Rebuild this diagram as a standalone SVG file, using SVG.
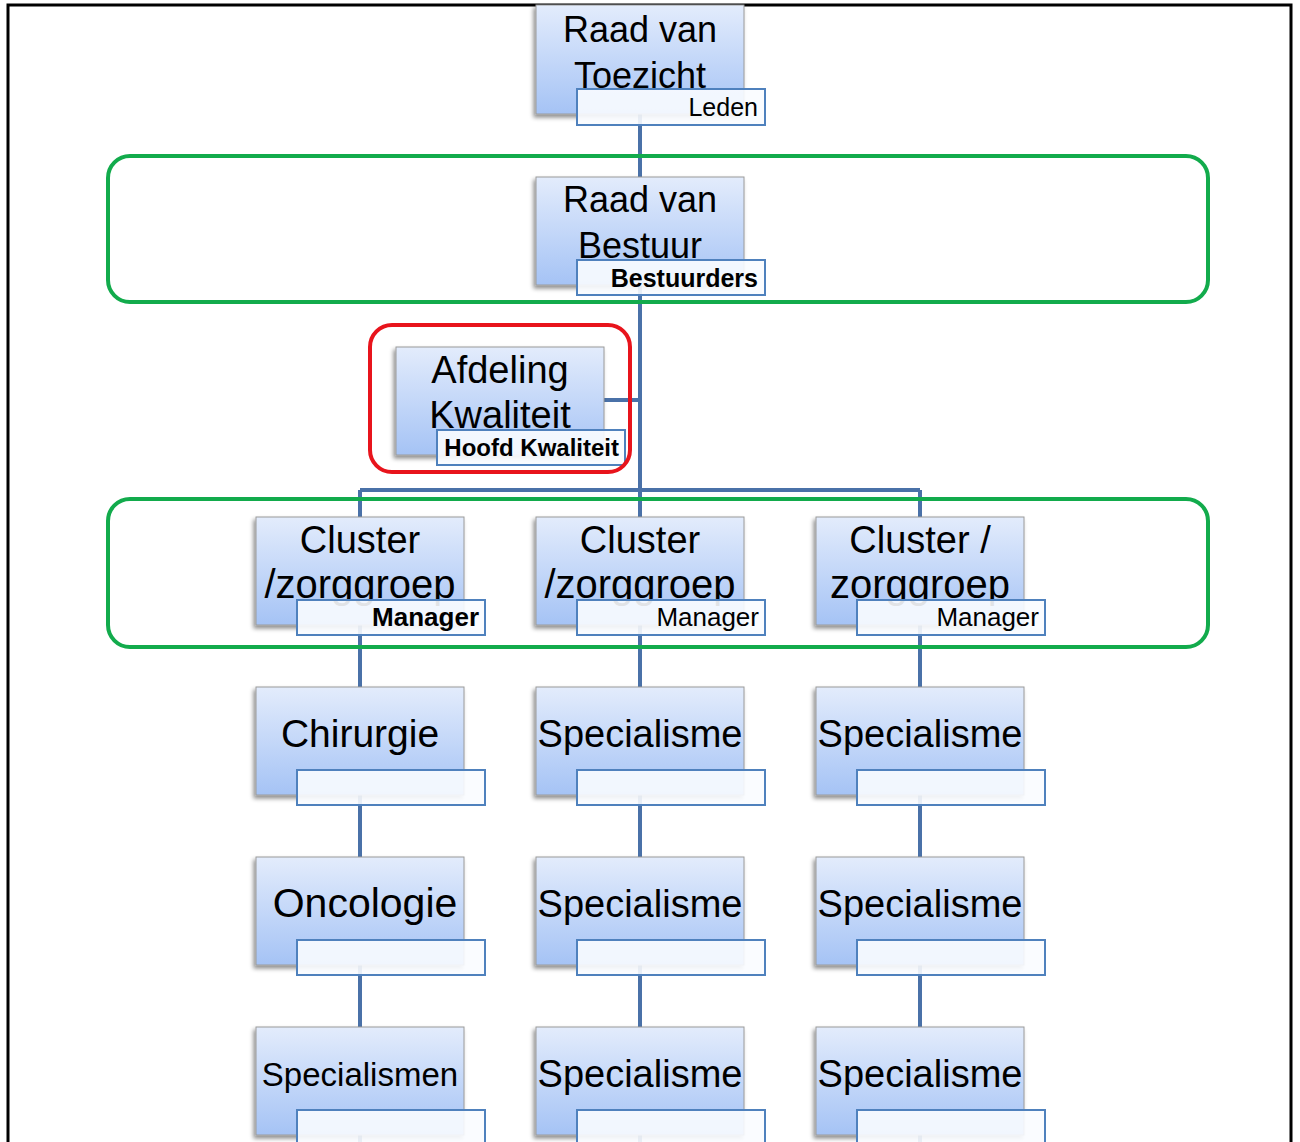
<svg xmlns="http://www.w3.org/2000/svg" width="1300" height="1142" viewBox="0 0 1300 1142">
<defs>
<linearGradient id="g" x1="0" y1="0" x2="0" y2="1">
<stop offset="0" stop-color="#e3ecfc"/>
<stop offset="1" stop-color="#a5c3f5"/>
</linearGradient>
<filter id="sh" x="-10%" y="-10%" width="130%" height="130%">
<feDropShadow dx="-2" dy="3" stdDeviation="2" flood-color="#000" flood-opacity="0.45"/>
</filter>
</defs>
<style>
.box{fill:url(#g);stroke:#9a9a9a;stroke-width:1;filter:url(#sh)}
.lab{fill:#fafcff;fill-opacity:0.9;stroke:#4f81bd;stroke-width:2}
.t{font-family:"Liberation Sans",Arial,sans-serif;font-size:38px;fill:#000;text-anchor:middle}
.l{font-family:"Liberation Sans",Arial,sans-serif;font-size:25px;fill:#000;text-anchor:end}
.b{font-weight:bold}
.c{stroke:#4a71a8;stroke-width:4;fill:none}
.grp{fill:none;stroke:#12ab4c;stroke-width:4}
</style>
<rect x="0" y="0" width="1300" height="1142" fill="#fff"/>
<path d="M8 1142 V5 H1291 V1142" fill="none" stroke="#000" stroke-width="3"/>
<g id="connectors">
<path class="c" d="M640 114 V490"/>
<path class="c" d="M604 400 H640"/>
<path class="c" d="M360 490 H920"/>
<path class="c" d="M360 490 V1142"/>
<path class="c" d="M640 490 V1142"/>
<path class="c" d="M920 490 V1142"/>
</g>
<g id="n-rvt">
<rect class="box" x="536" y="5" width="208" height="109"/>
<text class="t" x="640" y="42" style="font-size:36px">Raad van</text>
<text class="t" x="640" y="88" style="font-size:36px">Toezicht</text>
<rect class="lab" x="577" y="89" width="188" height="36"/>
<text class="l" x="758" y="116">Leden</text>
</g>
<g id="n-rvb">
<rect class="box" x="536" y="177" width="208" height="108"/>
<text class="t" x="640" y="212" style="font-size:36px">Raad van</text>
<text class="t" x="640" y="258" style="font-size:36px">Bestuur</text>
<rect class="lab" x="577" y="260" width="188" height="35"/>
<text class="l b" x="758" y="287">Bestuurders</text>
</g>
<g id="n-afd">
<rect class="box" x="396" y="347" width="208" height="108"/>
<text class="t" x="500" y="383">Afdeling</text>
<text class="t" x="500" y="428">Kwaliteit</text>
<rect class="lab" x="437" y="430" width="188" height="35"/>
<text class="l b" x="619" y="456" style="font-size:24px">Hoofd Kwaliteit</text>
</g>
<g id="n-c1">
<rect class="box" x="256" y="517" width="208" height="108"/>
<text class="t" x="360" y="553">Cluster</text>
<text class="t" x="360" y="598" style="font-size:40px">/zorggroep</text>
<rect class="lab" x="297" y="600" width="188" height="35"/>
<text class="l b" x="479" y="626" style="font-size:26px">Manager</text>
</g>
<g id="n-c2">
<rect class="box" x="536" y="517" width="208" height="108"/>
<text class="t" x="640" y="553">Cluster</text>
<text class="t" x="640" y="598" style="font-size:40px">/zorggroep</text>
<rect class="lab" x="577" y="600" width="188" height="35"/>
<text class="l" x="759" y="626" style="font-size:26px">Manager</text>
</g>
<g id="n-c3">
<rect class="box" x="816" y="517" width="208" height="108"/>
<text class="t" x="920" y="553">Cluster /</text>
<text class="t" x="920" y="598" style="font-size:40px">zorggroep</text>
<rect class="lab" x="857" y="600" width="188" height="35"/>
<text class="l" x="1039" y="626" style="font-size:26px">Manager</text>
</g>
<g id="n-r2a">
<rect class="box" x="256" y="687" width="208" height="108"/>
<text class="t" x="360" y="747" style="font-size:39px">Chirurgie</text>
<rect class="lab" x="297" y="770" width="188" height="35"/>
</g>
<g id="n-r2b">
<rect class="box" x="536" y="687" width="208" height="108"/>
<text class="t" x="640" y="747">Specialisme</text>
<rect class="lab" x="577" y="770" width="188" height="35"/>
</g>
<g id="n-r2c">
<rect class="box" x="816" y="687" width="208" height="108"/>
<text class="t" x="920" y="747">Specialisme</text>
<rect class="lab" x="857" y="770" width="188" height="35"/>
</g>
<g id="n-r3a">
<rect class="box" x="256" y="857" width="208" height="108"/>
<text class="t" x="365" y="917" style="font-size:41px">Oncologie</text>
<rect class="lab" x="297" y="940" width="188" height="35"/>
</g>
<g id="n-r3b">
<rect class="box" x="536" y="857" width="208" height="108"/>
<text class="t" x="640" y="917">Specialisme</text>
<rect class="lab" x="577" y="940" width="188" height="35"/>
</g>
<g id="n-r3c">
<rect class="box" x="816" y="857" width="208" height="108"/>
<text class="t" x="920" y="917">Specialisme</text>
<rect class="lab" x="857" y="940" width="188" height="35"/>
</g>
<g id="n-r4a">
<rect class="box" x="256" y="1027" width="208" height="108"/>
<text class="t" x="360" y="1086" style="font-size:33px">Specialismen</text>
<rect class="lab" x="297" y="1110" width="188" height="35"/>
</g>
<g id="n-r4b">
<rect class="box" x="536" y="1027" width="208" height="108"/>
<text class="t" x="640" y="1087">Specialisme</text>
<rect class="lab" x="577" y="1110" width="188" height="35"/>
</g>
<g id="n-r4c">
<rect class="box" x="816" y="1027" width="208" height="108"/>
<text class="t" x="920" y="1087">Specialisme</text>
<rect class="lab" x="857" y="1110" width="188" height="35"/>
</g>
<g id="highlights">
<rect class="grp" x="108" y="156" width="1100" height="146" rx="22"/>
<rect class="grp" x="108" y="499" width="1100" height="148" rx="22"/>
<rect x="370" y="325" width="260" height="147" rx="22" fill="none" stroke="#e8141c" stroke-width="4"/>
</g>
</svg>
